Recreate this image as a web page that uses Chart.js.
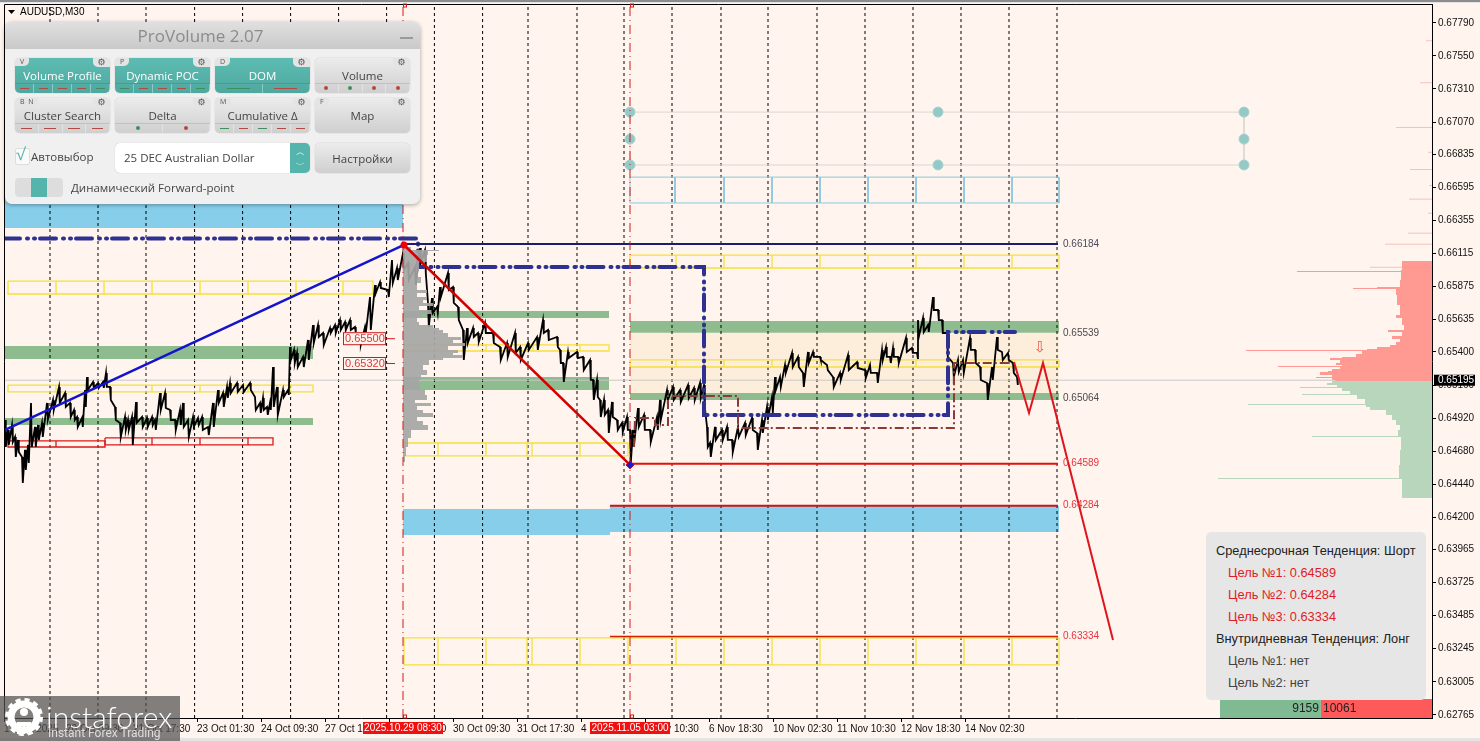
<!DOCTYPE html>
<html>
<head>
<meta charset="utf-8">
<title>AUDUSD,M30</title>
<script src="https://cdn.jsdelivr.net/npm/chart.js@4"></script>
<style>
html,body{margin:0;padding:0;background:#fff5ee;overflow:hidden}
#wrap{position:relative;width:1480px;height:741px;font-family:"Open Sans",sans-serif}
canvas{position:absolute;left:0;top:0}
#panel{position:absolute;left:5px;top:22px;width:415px;height:182px;background:#f0f0f0;border-radius:7px;box-shadow:0 1px 4px rgba(0,0,0,.35);color:#444}
#panel .head{height:27px;border-radius:7px 7px 0 0;background:linear-gradient(#e0e0e0,#c9c9c9);text-align:center;font-size:17px;line-height:27px;color:#8c8c8c;padding-right:24px}
#panel .min{position:absolute;left:395px;top:15px;width:13px;height:2px;background:#9a9a9a}
.btn{position:absolute;width:95px;height:35px;border-radius:5px;background:linear-gradient(#ececec,#cfcfcf);font-size:11.5px;text-align:center;line-height:36px;color:#444;box-shadow:0 0 1px rgba(0,0,0,.4)}
.btn.on{background:linear-gradient(#5dbcb2,#4fa89f);color:#fff}
.btn .key{position:absolute;left:0;top:0;height:8px;padding:0 5px;font-size:7px;line-height:8px;color:#555;background:#e4e4e4;border-radius:3px 0 5px 0}
.btn .gear{position:absolute;right:0;top:0;width:17px;height:9px;font-size:9px;line-height:9px;color:#555;background:#e4e4e4;border-radius:0 3px 0 5px;font-family:"DejaVu Sans"}
.btn .marks{position:absolute;left:0;right:0;bottom:0;height:9px;display:flex;border-top:1px solid rgba(0,0,0,.1)}
.btn .marks span{flex:1;position:relative;border-right:1px solid rgba(255,255,255,.35)}
.btn .marks i{position:absolute;left:25%;right:25%;top:4px;height:1px}
.btn .marks b{position:absolute;left:50%;top:2px;width:4px;height:4px;margin-left:-2px;border-radius:50%}
.ctl{position:absolute;font-size:11.5px;color:#444}
#info{position:absolute;left:1206px;top:532px;width:220px;height:168px;background:#e6e6e6;border-radius:5px;font-family:"Liberation Sans",sans-serif;font-size:12.8px}
#info div{position:absolute;white-space:nowrap;line-height:16px}
#logo{position:absolute;left:0;top:696px;width:180px;height:45px;background:rgba(80,80,80,.72);color:#fff}
</style>
</head>
<body>
<div id="wrap">
<canvas id="grafico" width="1480" height="741"></canvas>
<div id="panel"></div>
<div id="info"></div>
<div id="logo">
<svg width="46" height="45" style="position:absolute;left:4px;top:0">
<circle cx="20" cy="21" r="13" fill="none" stroke="#fff" stroke-width="7"/>
<circle cx="20" cy="21" r="17" fill="none" stroke="#fff" stroke-width="4" stroke-dasharray="5 3.9"/>
<circle cx="20" cy="16" r="4" fill="#fff"/><path d="M13 38V26h14v12h-4V30h-2v8h-2v-8h-2v8z" fill="#fff"/>
</svg>
<div style="position:absolute;left:46px;top:0;font:300 30px/40px Lato,sans-serif">instaforex</div>
<div style="position:absolute;left:48px;top:30px;font:12px/14px Roboto,sans-serif;color:#ddd">Instant Forex Trading</div>
</div>
</div>
<script>
// time axis, one bar = 30 min
const xMax = 714;
const dashBars = [23,47,71,95.3,119.3,143.3,167.3,191.3,215.2,239.3,262,286.5,310,334,358.5,382,406.5,430.5,454.5,478.5,502.5,526.5];
const xTickBars = [0,31,64.5,96.5,128.5,160.5,192.5,224.5,256.5,288.5,320.5,352.5,384.5,416.5,448.5,480.5];
const xTickLabels = ["17 Oct 2025","20 Oct 09:30","21 Oct 17:30","23 Oct 01:30","24 Oct 09:30","27 Oct 17:30","29 Oct 01:30","30 Oct 09:30","31 Oct 17:30","4 Nov 01:30","5 Nov 10:30","6 Nov 18:30","10 Nov 02:30","11 Nov 10:30","12 Nov 18:30","14 Nov 02:30"];
const yMin = 0.62742, yMax = 0.67927;
const yTicks = [0.67790,0.67550,0.67310,0.67070,0.66835,0.66595,0.66355,0.66115,0.65875,0.65635,0.65400,0.65160,0.64920,0.64680,0.64440,0.64200,0.63965,0.63725,0.63485,0.63245,0.63005,0.62765];
const lastPrice = 0.65195;

// price path, high and low per sample
const priceBars = [0.5,2,4,5.5,7,9,10.5,12,13.5,15.5,17,19,21.5,24.5,27.5,30.5,33,35,36.5,39,40.5,41.5,44.5,47,49.5,51,53,55.5,58,60.5,62,64,66,69,71.5,74,75.5,78,80.5,83,85.5,88,89.5,92,94.5,97,99,102,104.5,107,109.5,111.5,113,116.5,119.5,123,125.5,128,129.5,131.5,133,134.5,136.5,139.5,142,
143,145,146.5,149.5,152,154.5,157,159.5,163,165.5,168,170.5,173,175.5,178,180.5,183,185.5,188,192,194,196.5,199.5,202,205.5,208,210.5,212,214,216.5,218,222,224.5,227,229.5,231.5,234.5,237,240.5,244.5,248,251.5,255.5,258,262,266.5,269.5,272,276.5,278,279.5,282,286.5,289.5,293,294.5,296.5,298,300,302,304,306.5,309,311.5,313,314.5,317,320,323,326.5,328,331.5,334.5,338,342,345,348,350,
351.5,353,355.5,359,361.5,364,367,370.5,374,376.5,379,381.5,384,385.5,388,390.5,394,397,399.5,402,404.5,408,411.5,414.5,418,422,426.5,430.5,433,436.5,439,441,443,444.5,447,451,454,456.5,457,459.5,462,464.5,467,469,471.5,474.5,477,479.5,483,485.5,488,491.5,494,496.5,499,502,504.5,506.5];
const priceHigh = [.64906,.64834,.64870,.64783,.64761,.64638,.64689,.64725,.65030,.64856,.64870,.64885,.65030,.65052,.65146,.65102,.65030,.64979,.64928,.64921,.65124,.65218,.65182,.65175,.65182,.65248,.65146,.65001,.64885,.64928,.64906,.64928,.65037,.64928,.64921,.64928,.64906,.65102,.65102,.64979,.64906,.64979,.65030,.64906,.64928,.64921,.64928,.64856,.65030,.65124,.65102,.65146,.65175,.65175,.65160,.65175,.65073,.65030,.65066,.65001,.65030,.65291,.65146,.65124,.65124,
.65436,.65415,.65393,.65364,.65487,.65596,.65596,.65538,.65574,.65596,.65632,.65618,.65632,.65582,.65509,.65582,.65799,.65886,.65908,.65850,.66068,.66010,.66119,.66046,.66017,.66155,.66140,.65756,.65792,.65727,.65872,.65974,.65872,.65727,.65560,.65574,.65574,.65538,.65611,.65538,.65436,.65465,.65538,.65436,.65465,.65509,.65632,.65560,.65509,.65415,.65320,.65400,.65400,.65364,.65342,.65197,.65197,.65052,.65052,.64979,.65037,.64906,.64885,.64928,.64834,.64834,.64993,.64943,.64834,.64928,.65052,.65124,.65146,.65124,.65160,.65139,.65175,.65160,
.64856,.64739,.64856,.64834,.64856,.64761,.64856,.64885,.64921,.64812,.64906,.65001,.65073,.65218,.65218,.65306,.65393,.65364,.65248,.65400,.65400,.65364,.65306,.65218,.65248,.65378,.65327,.65269,.65306,.65248,.65415,.65436,.65364,.65429,.65364,.65502,.65429,.65393,.65632,.65647,.65596,.65799,.65705,.65632,.65538,.65320,.65342,.65342,.65502,.65415,.65291,.65175,.65291,.65509,.65400,.65393,.65320,.65218];
const priceLow = [.64710,.64725,.64747,.64638,.64674,.64449,.64543,.64594,.64710,.64710,.64761,.64783,.64906,.64979,.65030,.65001,.64928,.64906,.64856,.64856,.65001,.65124,.65139,.65139,.65139,.65146,.65052,.64906,.64783,.64834,.64834,.64725,.64885,.64856,.64856,.64870,.64834,.64979,.64993,.64906,.64834,.64870,.64856,.64783,.64856,.64870,.64834,.64797,.64856,.65030,.65001,.65066,.65102,.65110,.65110,.65124,.64979,.64957,.64979,.64943,.64979,.65001,.64943,.65073,.65088,
.65342,.65320,.65291,.65291,.65342,.65465,.65509,.65451,.65538,.65538,.65560,.65560,.65560,.65538,.65451,.65538,.65560,.65828,.65865,.65799,.65901,.65923,.65995,.65923,.65886,.66046,.65974,.65582,.65683,.65683,.65799,.65850,.65756,.65632,.65342,.65465,.65509,.65473,.65538,.65465,.65342,.65364,.65393,.65342,.65415,.65415,.65538,.65487,.65436,.65320,.65182,.65356,.65356,.65269,.65197,.65052,.65073,.64928,.64943,.64812,.64928,.64834,.64819,.64834,.64594,.64710,.64856,.64834,.64747,.64834,.64906,.65052,.65052,.65037,.65066,.65052,.65066,.65001,
.64710,.64638,.64761,.64761,.64761,.64674,.64783,.64797,.64834,.64689,.64812,.64906,.64957,.65124,.65146,.65248,.65291,.65291,.65146,.65320,.65364,.65342,.65269,.65146,.65197,.65269,.65284,.65211,.65248,.65175,.65342,.65364,.65320,.65364,.65320,.65400,.65393,.65356,.65509,.65545,.65545,.65705,.65632,.65538,.65364,.65218,.65255,.65248,.65415,.65320,.65197,.65052,.65197,.65415,.65342,.65342,.65248,.65160];

// depth of market on the right edge
const redLevels = [.66061,.65995,.65988,.65981,.65923,.65872,.65865,.65857,.65814,.65741,.65669,.65647,.65596,.65560,.65545,.65516,.65494,.65473,.65451,.65436,.65422,.65415,.65407,.65385,.65364,.65356,.65342,.65320,.65306,.65298,.65291,.65277,.65262,.65255,.65233,.65218,.65211,.65197,.65189];
const redVolumes = [30,31,135,31,32,55,79,36,35,32,36,30,28,44,30,40,32,36,42,55,65,186,70,76,90,102,92,96,90,154,92,100,104,112,100,116,100,97,0];
const greenLevels = [.65189,.65175,.65160,.65146,.65139,.65117,.65095,.65088,.65059,.65022,.65015,.65001,.64979,.64943,.64906,.64870,.64834,.64790,.64783,.64689,.64579,.64485,.64478,.64340];
const greenVolumes = [100,105,95,132,90,82,130,75,67,184,66,62,46,40,36,32,34,120,31,32,33,214,30,0];
const thinLevels = [.67660,.67355,.67030,.66850,.66725,.66609,.66510,.66408,.66263,.66183,.66015];
const thinVolumes = [6,12,36,4,22,3,23,4,24,47,62];
const sellTotal = 10061, buyTotal = 9159, totalPerUnit = 90.6;

// session volume profile
const profileLevels = [.66163,.66141,.66133,.66104,.66054,.65995,.65945,.65901,.65850,.65828,.65799,.65778,.65756,.65734,.65705,.65676,.65647,.65618,.65596,.65574,.65560,.65538,.65509,.65487,.65465,.65444,.65415,.65393,.65378,.65356,.65342,.65306,.65269,.65233,.65197,.65160,.65124,.65088,.65052,.65030,.65008,.64979,.64957,.64928,.64899,.64870,.64834,.64776,.64710,.64645,.64601];
const profileVolumes = [8,36,25,24,16,15,18,14,24,14,24,20,30,16,28,18,14,16,30,36,40,45,58,50,62,45,55,50,60,40,26,20,24,18,16,17,22,24,12,28,14,20,30,14,20,25,8,5,3,2,0];

// zones: from bar, to bar, top price, bottom price
const creamZones = [[313,527.5,.65539,.65102]];
const blueZones = [[0,199.5,.6654,.6630],[199.5,303,.64260,.64071],[303,527.5,.64282,.64093]];
const greenZones = [[0,154.5,.65444,.65349],[0,154.5,.64921,.64870],[199.5,302.5,.65698,.65647],[199.5,302.5,.65218,.65124],[313,527.5,.65625,.65539],[313,527.5,.65102,.65052]];

// box rows: bar edges, top price, bottom price
const yellowRows = [
 [[2,26,50,74,98,122,146,169.5,184.5],.65915,.65821],
 [[2,26,74,98,122,143,154.5],.65160,.65110],
 [[200,217,241,264.5,288,302.5],.65451,.65407],
 [[200,217,241,261.5,264,288,312],.64739,.64645],
 [[313,336,360,384,408,432,456,480,504,527.5],.66104,.66010],
 [[313,336,360,384,408,432,456,480,504,527.5],.65342,.65291],
 [[200,217,241,261.5,264,288,312,336,360,384,408,432,456,480,504,527.5],.63324,.63128]
];
const redRows = [[[2,26,50.5],.64754,.64710],[[50.5,74,98,122,134.5],.64776,.64725]];
const skyRows = [[[313,335.5,360,384,408,432,456,480,504,527.5],.66670,.66482]];

// levels
const navyBars = [200,527],  navyLevel = .66184;
const target1Bars = [313,527], target1 = .64589;
const target2Bars = [303,527], target2 = .64284;
const target3Bars = [303,527], target3 = .63334;
const levelLabels = ["0.66184","0.65539","0.65064","0.64589","0.64284","0.63334"];
const levelPrices = [.66184,.65539,.65064,.64589,.64284,.63334];
const levelColors = ["#4a4a5a","#4a4a4a","#4a4a4a","#e8343c","#e8343c","#e8343c"];

// swing lines and indicator steps
const upBars = [0.5,200], upPrices = [.64834,.66177];
const downBars = [200,313], downPrices = [.66177,.64580];
const forecastBars = [505,512.5,519.5,554.5], forecastPrices = [.65327,.64957,.65320,.63309];
const pocBars = [0,207,207,350,350,472,472,505.5], pocPrices = [.66224,.66224,.66017,.66017,.64943,.64943,.65545,.65545];
const stepBars = [315,315.5,325.5,325.5,332,332,367,367,475,475,504], stepPrices = [.64710,.64921,.64921,.64870,.64870,.65081,.65081,.64848,.64848,.65320,.65320];
const gridTopPrices = [.67142,.66946,.66758];

const redDates = [["2025.10.29 08:30",199.5],["2025.11.05 03:00",313]];
const priceTags = [["0.65500",.6550],["0.65320",.6532]];

const ds = [];
function linea(xs, ys, color, width, extra) {
  ds.push(Object.assign({data: xs.map((x,i)=>({x:x,y:ys[i]})), borderColor:color, borderWidth:width, pointRadius:0, fill:false, tension:0}, extra||{}));
}
function zonas(list, color) {
  list.forEach(z => linea([z[0],z[1]],[z[2],z[2]],color,0,{fill:{value:z[3]},backgroundColor:color}));
}
function caixas(rows, color, width) {
  rows.forEach(r => {
    const xs = [], ys = [];
    r[0].forEach((b,i) => {
      if (i == 0) return;
      xs.push(r[0][i-1],b,b,r[0][i-1],r[0][i-1],null);
      ys.push(r[1],r[1],r[2],r[2],r[1],null);
    });
    linea(xs,ys,color,width,{spanGaps:false});
  });
}
function perfil(levels, vols, scaleId, color) {
  const pts = [{x:0,y:levels[0]}];
  levels.forEach((p,i) => {
    pts.push({x:vols[i],y:p});
    if (i < levels.length-1) pts.push({x:vols[i],y:levels[i+1]});
  });
  pts.push({x:0,y:levels[levels.length-1]});
  ds.push({data:pts, xAxisID:scaleId, borderWidth:0, borderColor:color, backgroundColor:color, pointRadius:0, fill:'shape', tension:0});
}

zonas(creamZones,"#fdeedb");
zonas(blueZones,"#87ceeb");
zonas(greenZones,"#8fbc8f");

// dashed day separators
{
  const xs = [], ys = [];
  dashBars.forEach(b => { xs.push(b,b,null); ys.push(yMin,yMax,null); });
  linea(xs,ys,"#000",1,{borderDash:[3,3],spanGaps:false});
}
linea([0,xMax],[lastPrice,lastPrice],"#c8c8c8",1);

// depth of market
perfil(redLevels,redVolumes,"xv","#ff9a93");
perfil(greenLevels,greenVolumes,"xv","#b8d6bb");
{
  const xs = [], ys = [];
  thinLevels.forEach((p,i) => { xs.push(0,thinVolumes[i],null); ys.push(p,p,null); });
  linea(xs,ys,"rgba(240,150,145,.55)",1,{xAxisID:"xv",spanGaps:false});
}
linea([sellTotal/totalPerUnit,sellTotal/totalPerUnit+buyTotal/totalPerUnit],[.62880,.62880],"#7fba93",0,{xAxisID:"xv",fill:{value:yMin},backgroundColor:"#7fba93"});
linea([0,sellTotal/totalPerUnit],[.62880,.62880],"#ff5a5a",0,{xAxisID:"xv",fill:{value:yMin},backgroundColor:"#ff5a5a"});

// selection frame with its handles
linea([313,620,620,313,313],[gridTopPrices[0],gridTopPrices[0],gridTopPrices[2],gridTopPrices[2],gridTopPrices[0]],"#dcd6d2",1);
linea([313,313,313,467,467,620,620,620],[.67142,.66946,.66758,.67142,.66758,.67142,.66946,.66758],"#000",0,{showLine:false,pointRadius:5,pointBackgroundColor:"#93c9c6",pointBorderColor:"#a8d0cc",pointBorderWidth:1});

caixas(skyRows,"#8cc8dd",1);
caixas(yellowRows,"#f6e03a",1.3);
caixas(redRows,"#d91a1a",1.3);

// price line
{
  const xs = [], ys = [];
  priceBars.forEach((b,i) => { xs.push(b,b+0.4); ys.push(priceHigh[i],priceLow[i]); });
  linea(xs,ys,"#000",1.8);
}

// indicator lines
linea(pocBars,pocPrices,"#2e3192",4,{borderDash:[16,7,1,6,1,5],borderCapStyle:"round"});
linea(stepBars,stepPrices,"#8b3a3a",2,{borderDash:[9,3,2,3]});

perfil(profileLevels,profileVolumes,"xg","rgba(165,165,165,.92)");

linea(navyBars,[navyLevel,navyLevel],"#1d1d70",2);
linea(target1Bars,[target1,target1],"#e01010",2);
linea(target2Bars,[target2,target2],"#c81414",2);
linea(target3Bars,[target3,target3],"#d02000",1.5);
linea(upBars,upPrices,"#1414cc",2.5);
linea(downBars,downPrices,"#d40000",2.5);
linea(forecastBars,forecastPrices,"#e0141c",2);
[199.5,313].forEach(b => linea([b,b],[yMin,yMax],"#d01818",1,{borderDash:[9,4,1,4]}));

linea([200],[.66177],"#e00000",0,{pointRadius:3.5,pointBackgroundColor:"#f00000",pointBorderWidth:0,showLine:false});
linea([313],[.64580],"#1414cc",0,{pointRadius:4,pointStyle:"rectRot",pointBackgroundColor:"#1a1ad0",pointBorderColor:"#d40000",pointBorderWidth:1,showLine:false});

// datasets drawn last have to come first
ds.reverse();

const textos = {
  id: "textos",
  afterDraw(chart) {
    const c = chart.ctx, a = chart.chartArea, sx = chart.scales.x, sy = chart.scales.y;
    c.save();
    // frame
    c.fillStyle = "#8c8c8c"; c.fillRect(0,0,1480,2);
    c.fillStyle = "#e4e4e4"; c.fillRect(0,2,1480,1); c.fillRect(0,738,1480,3);
    c.strokeStyle = "#000"; c.lineWidth = 1;
    c.beginPath(); c.moveTo(a.left+.5,a.bottom); c.lineTo(a.left+.5,a.top+.5); c.lineTo(a.right,a.top+.5); c.stroke();

    c.textBaseline = "middle";
    c.font = "10px 'Liberation Sans'"; c.textAlign = "left"; c.fillStyle = "#000";
    c.fillText("AUDUSD,M30",20,12.5);
    c.beginPath(); c.moveTo(8,10); c.lineTo(15,10); c.lineTo(11.5,14); c.fill();

    levelLabels.forEach((t,i) => {
      c.fillStyle = levelColors[i];
      c.fillText(t,sx.getPixelForValue(529.5),sy.getPixelForValue(levelPrices[i]));
    });

    // red boxed price tags
    c.font = "11px 'Liberation Sans'";
    priceTags.forEach(t => {
      const y = sy.getPixelForValue(t[1]), x0 = sx.getPixelForValue(169.5), x1 = sx.getPixelForValue(190.5);
      c.fillStyle = "#fff5ee"; c.fillRect(x0,y-6,x1-x0,12);
      c.strokeStyle = "#c81e1e"; c.strokeRect(x0+.5,y-5.5,x1-x0,12);
      c.beginPath(); c.moveTo(x1,y+.5); c.lineTo(x1+10,y+.5); c.stroke();
      c.fillStyle = "#d63a3a"; c.fillText(t[0],x0+2,y+.5);
    });

    // forecast arrow
    c.fillStyle = "#ea5a4a"; c.font = "15px 'DejaVu Sans'"; c.textAlign = "center";
    c.fillText("\u21e9",sx.getPixelForValue(518),sy.getPixelForValue(.65429));

    // date flags
    c.font = "10px 'Liberation Sans'";
    redDates.forEach(d => {
      const x = sx.getPixelForValue(d[1]);
      c.fillStyle = "#f01010"; c.fillRect(x-40,a.bottom+4,80,12);
      c.fillStyle = "#fff"; c.fillText(d[0],x,a.bottom+10.5);
      c.strokeStyle = "#d01818"; c.strokeRect(x+.5,a.top,3,3); c.strokeRect(x+.5,a.bottom-3,3,3);
    });

    // last price tag
    const yl = sy.getPixelForValue(lastPrice);
    c.fillStyle = "#000"; c.fillRect(a.right+2,yl-5.5,41,11);
    c.fillStyle = "#fff"; c.textAlign = "left"; c.fillText(lastPrice.toFixed(5),a.right+6,yl+.5);

    // totals
    c.fillStyle = "#222"; c.font = "12px 'Liberation Sans'";
    const ys = sy.getPixelForValue(.62807), xs = a.right - sellTotal/totalPerUnit;
    c.textAlign = "right"; c.fillText(String(buyTotal),xs-2,ys);
    c.textAlign = "left"; c.fillText(String(sellTotal),xs+2,ys);
    c.restore();
  }
};

function semPadding(s) { s.paddingLeft = 0; s.paddingRight = 0; s.paddingTop = 0; s.paddingBottom = 0; }

new Chart(document.getElementById("grafico"), {
  type: "line",
  data: {datasets: ds},
  plugins: [textos],
  options: {
    responsive: false,
    animation: false,
    devicePixelRatio: 1,
    layout: {autoPadding:false, padding: {left:4, top:4, right:0, bottom:0}},
    plugins: {legend:{display:false}, tooltip:{enabled:false}, title:{display:false}},
    scales: {
      x: {
        type: "linear", min: 0, max: xMax, position: "bottom",
        afterBuildTicks(s) { s.ticks = xTickBars.map(v => ({value:v})); },
        afterFit(s) { s.height = 23; semPadding(s); },
        grid: {drawOnChartArea:false, color:"#000", tickLength:4},
        border: {color:"#000"},
        ticks: {autoSkip:false, maxRotation:0, align:"start", padding:1, color:"#111", font:{family:"Liberation Sans",size:10},
          callback: (v,i) => xTickLabels[i]}
      },
      y: {
        type: "linear", min: yMin, max: yMax, position: "right",
        afterBuildTicks(s) { s.ticks = yTicks.map(v => ({value:v})); },
        afterFit(s) { s.width = 48; semPadding(s); },
        grid: {drawOnChartArea:false, color:"#000", tickLength:4},
        border: {color:"#000"},
        ticks: {autoSkip:false, padding:2, color:"#111", font:{family:"Liberation Sans",size:10},
          callback: v => v.toFixed(5)}
      },
      xv: {type:"linear", display:false, axis:"x", reverse:true, min:0, max:1428},
      xg: {type:"linear", display:false, axis:"x", min:-399, max:1029}
    }
  }
});

// side panels
const botoes = [
  ["Volume Profile","V",1,"rrrrg"],["Dynamic POC","P",1,"grrrg"],["DOM","D",1,"gr"],["Volume","",0,"RGRR"],
  ["Cluster Search","B  N",0,"rrrr"],["Delta","",0,"GR"],["Cumulative \u0394","M",0,"grgrr"],["Map","F",0,""]
];
const botaoX = [10,110,210,310], botaoY = [36,76];
let html = '<div class="head">ProVolume 2.07</div><div class="min"></div>';
botoes.forEach((b,i) => {
  let m = "";
  if (b[3]) {
    m = '<div class="marks">' + b[3].split("").map(k => {
      const cor = (k == "g" || k == "G") ? "#3f8f5f" : "#b5483f";
      return '<span>' + (k == k.toLowerCase() ? '<i style="background:'+cor+'"></i>' : '<b style="background:'+cor+'"></b>') + '</span>';
    }).join("") + '</div>';
  }
  html += '<div class="btn'+(b[2]?' on':'')+'" style="left:'+botaoX[i%4]+'px;top:'+botaoY[i<4?0:1]+'px">' +
    (b[1] ? '<span class="key">'+b[1].replace(/ /g,"&nbsp;")+'</span>' : '') + '<span class="gear">\u2699</span>' + b[0] + m + '</div>';
});
html += '<div style="position:absolute;left:10px;top:126px;width:13px;height:15px;background:#fafafa;border:1px solid #ddd;border-radius:2px"></div>';
html += '<div class="ctl" style="left:11px;top:120px;font-size:17px;color:#55b5ac">\u221a</div>';
html += '<div class="ctl" style="left:26px;top:127px">\u0410\u0432\u0442\u043e\u0432\u044b\u0431\u043e\u0440</div>';
html += '<div style="position:absolute;left:110px;top:121px;width:195px;height:30px;background:#fff;border-radius:5px;box-shadow:0 0 1px rgba(0,0,0,.3)"></div>';
html += '<div class="ctl" style="left:119px;top:128px">25 DEC Australian Dollar</div>';
html += '<div style="position:absolute;left:285px;top:121px;width:20px;height:30px;background:#55b5ac;border-radius:0 5px 5px 0;color:#fff;font-size:9px;line-height:13px;text-align:center;padding-top:2px;box-sizing:border-box">\ufe3f<br>\ufe40</div>';
html += '<div class="btn" style="left:310px;top:121px;height:30px;line-height:31px">\u041d\u0430\u0441\u0442\u0440\u043e\u0439\u043a\u0438</div>';
html += '<div style="position:absolute;left:10px;top:156px;width:48px;height:19px;background:#ddd;border-radius:4px"><div style="position:absolute;left:16px;top:0;width:16px;height:19px;background:#55b5ac"></div></div>';
html += '<div class="ctl" style="left:66px;top:158px">\u0414\u0438\u043d\u0430\u043c\u0438\u0447\u0435\u0441\u043a\u0438\u0439 Forward-point</div>';
document.getElementById("panel").innerHTML = html;

const infoLinhas = [
  ["\u0421\u0440\u0435\u0434\u043d\u0435\u0441\u0440\u043e\u0447\u043d\u0430\u044f \u0422\u0435\u043d\u0434\u0435\u043d\u0446\u0438\u044f: \u0428\u043e\u0440\u0442",10,"#222"],
  ["\u0426\u0435\u043b\u044c \u21161: 0.64589",22,"#e01c24"],
  ["\u0426\u0435\u043b\u044c \u21162: 0.64284",22,"#e01c24"],
  ["\u0426\u0435\u043b\u044c \u21163: 0.63334",22,"#e01c24"],
  ["\u0412\u043d\u0443\u0442\u0440\u0438\u0434\u043d\u0435\u0432\u043d\u0430\u044f \u0422\u0435\u043d\u0434\u0435\u043d\u0446\u0438\u044f: \u041b\u043e\u043d\u0433",10,"#222"],
  ["\u0426\u0435\u043b\u044c \u21161: \u043d\u0435\u0442",22,"#444"],
  ["\u0426\u0435\u043b\u044c \u21162: \u043d\u0435\u0442",22,"#444"]
];
document.getElementById("info").innerHTML = infoLinhas.map((l,i) =>
  '<div style="left:'+l[1]+'px;top:'+(11+i*22)+'px;color:'+l[2]+'">'+l[0]+'</div>').join("");
</script>
</body>
</html>
